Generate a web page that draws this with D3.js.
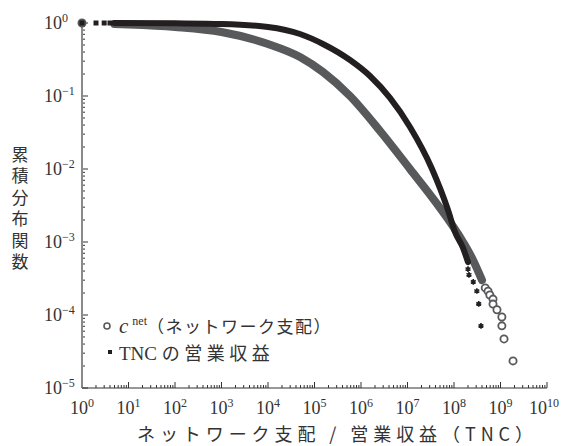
<!DOCTYPE html>
<html><head><meta charset="utf-8">
<script src="https://cdn.jsdelivr.net/npm/d3@7"></script>
<style>
html,body{margin:0;padding:0;background:#fff;}
svg{display:block;}
</style></head>
<body>
<svg id="c" width="562" height="446"></svg>
<script>
// ---- data ----
const grayBandX = [5, 10, 100, 1000, 1e4, 4.88e4, 1.52e5, 5.8e5, 2.57e6, 1.13e7, 4.31e7, 1.56e8, 2.56e8, 4.0e8];
const grayBandY = [0.969, 0.954, 0.882, 0.753, 0.516, 0.342, 0.213, 0.1, 0.0332, 0.01, 0.00332, 0.001, 5.67e-4, 3.0e-4];
const grayTailX = [1, 4.7e8, 5.4e8, 5.9e8, 6.9e8, 6.9e8, 8.4e8, 1.07e9, 1.07e9, 1.19e9, 1.86e9];
const grayTailY = [1, 2.35e-4, 2.12e-4, 1.88e-4, 1.65e-4, 1.41e-4, 1.18e-4, 9.4e-5, 7.1e-5, 4.7e-5, 2.35e-5];
const blackBandX = [5, 100, 1000, 1e4, 4.88e4, 1.52e5, 5.8e5, 1.56e6, 4.2e6, 1.13e7, 3.37e7, 7.43e7, 1.05e8, 1.56e8, 2.0e8];
const blackBandY = [1, 0.99, 0.969, 0.882, 0.707, 0.516, 0.311, 0.188, 0.094, 0.0376, 0.01, 0.00274, 0.00137, 8.3e-4, 5.3e-4];
const blackHeadX = [1, 2, 3, 4];
const blackHeadY = [1, 1, 1, 1];
const blackTailX = [2.0e8, 2.1e8, 2.6e8, 3.1e8, 3.4e8, 3.8e8];
const blackTailY = [4.26e-4, 3.55e-4, 2.84e-4, 2.13e-4, 1.42e-4, 7.1e-5];
const xDecades = [0,1,2,3,4,5,6,7,8,9,10];
const yDecades = [0,-1,-2,-3,-4,-5];
const legendNames = ["net", "（ネットワーク支配）", "TNC の営業収益"];
const xTitle = "ネットワーク支配 / 営業収益（TNC）";
const yTitle = "累積分布関数";

const GRAY = "#58595b", BLACK = "#231f20";
const svg = d3.select("#c");
const x = d3.scaleLog().domain([1, 1e10]).range([82, 547]);
const y = d3.scaleLog().domain([1e-5, 1]).range([388, 23]);
const serif = "Liberation Serif, DejaVu Serif, serif";
const cjk = "Noto Sans CJK JP, Noto Sans CJK SC, sans-serif";

// ---- axes ----
const ax = svg.append("g");
yDecades.forEach(d => {
  const v = Math.pow(10, d);
  ax.append("line").attr("x1", x(1)).attr("x2", x(1) + 6).attr("y1", y(v)).attr("y2", y(v))
    .attr("stroke", "#333").attr("stroke-width", 1);
  if (d > -5) {
    for (let k = 2; k <= 9; k++) {
      const m = k * Math.pow(10, d - 1);
      ax.append("line").attr("x1", x(1)).attr("x2", x(1) + 3).attr("y1", y(m)).attr("y2", y(m))
        .attr("stroke", "#333").attr("stroke-width", 1);
    }
  }
});
xDecades.forEach(d => {
  const v = Math.pow(10, d);
  ax.append("line").attr("x1", x(v)).attr("x2", x(v)).attr("y1", y(1e-5)).attr("y2", y(1e-5) - 6)
    .attr("stroke", "#333").attr("stroke-width", 1);
  if (d < 10) {
    for (let k = 2; k <= 9; k++) {
      const m = k * v;
      ax.append("line").attr("x1", x(m)).attr("x2", x(m)).attr("y1", y(1e-5)).attr("y2", y(1e-5) - 3)
        .attr("stroke", "#333").attr("stroke-width", 1);
    }
  }
});
ax.append("line").attr("x1", x(1)).attr("x2", x(1)).attr("y1", y(1)).attr("y2", y(1e-5))
  .attr("stroke", "#8a8a8a").attr("stroke-width", 2);
ax.append("line").attr("x1", x(1)).attr("x2", x(1e10)).attr("y1", y(1e-5)).attr("y2", y(1e-5))
  .attr("stroke", "#333").attr("stroke-width", 1.2);

// tick labels
yDecades.forEach(d => {
  const t = svg.append("text").attr("x", 44).attr("y", y(Math.pow(10, d)) + 6)
    .attr("font-family", serif).attr("font-size", 18).attr("fill", "#333");
  t.append("tspan").text("10");
  t.append("tspan").attr("font-size", 12).attr("dy", -7).text(d === 0 ? "0" : "−" + (-d));
});
xDecades.forEach(d => {
  const t = svg.append("text").attr("y", 414)
    .attr("font-family", serif).attr("font-size", 18).attr("fill", "#333");
  t.append("tspan").text("10");
  t.append("tspan").attr("font-size", 12).attr("dy", -7).text(String(d));
  const w = t.node().getComputedTextLength();
  let cx = x(Math.pow(10, d)) - w / 2;
  if (cx + w > 559) cx = 559 - w;
  t.attr("x", cx);
});

// axis titles
svg.append("text").attr("x", 137).attr("y", 441).attr("font-family", cjk).attr("font-size", 18)
  .attr("fill", "#333").attr("textLength", 396).attr("lengthAdjust", "spacing").text(xTitle);
svg.append("text").attr("x", 20).attr("y", 146)
  .attr("writing-mode", "vertical-rl").attr("letter-spacing", 4.5)
  .attr("font-family", cjk).attr("font-size", 17).attr("fill", "#333").text(yTitle);

// ---- series ----
const line = d3.line().x(d => x(d[0])).y(d => y(d[1])).curve(d3.curveMonotoneX);
svg.append("path").datum(d3.zip(grayBandX, grayBandY)).attr("d", line)
  .attr("fill", "none").attr("stroke", GRAY).attr("stroke-width", 8).attr("stroke-linecap", "round");
svg.selectAll(".gc").data(d3.zip(grayTailX, grayTailY)).join("circle")
  .attr("cx", d => x(d[0])).attr("cy", d => y(d[1])).attr("r", 3.6)
  .attr("fill", (d, i) => i === 0 ? GRAY : "#fff").attr("stroke", GRAY).attr("stroke-width", 1.8);
svg.append("path").datum(d3.zip(blackBandX, blackBandY)).attr("d", line)
  .attr("fill", "none").attr("stroke", BLACK).attr("stroke-width", 6).attr("stroke-linecap", "round");
svg.selectAll(".bh").data(d3.zip(blackHeadX, blackHeadY)).join("rect")
  .attr("x", d => x(d[0]) - 2.5).attr("y", d => y(d[1]) - 2.5).attr("width", 5).attr("height", 5)
  .attr("fill", BLACK);
const star = d3.symbol(d3.symbolAsterisk, 22);
svg.selectAll(".bt").data(d3.zip(blackTailX, blackTailY)).join("path")
  .attr("transform", d => `translate(${x(d[0])},${y(d[1])})`).attr("d", star)
  .attr("fill", "none").attr("stroke", BLACK).attr("stroke-width", 1.6);

// ---- legend ----
svg.append("circle").attr("cx", 107).attr("cy", 326).attr("r", 3).attr("fill", "#fff")
  .attr("stroke", GRAY).attr("stroke-width", 1.6);
const l1 = svg.append("text").attr("x", 119).attr("y", 333).attr("font-size", 18).attr("fill", "#333");
l1.append("tspan").attr("font-family", serif).attr("font-style", "italic").attr("font-size", 21).text("c");
l1.append("tspan").attr("font-family", serif).attr("font-size", 12).attr("dy", -8).attr("dx", 4).text(legendNames[0]);
l1.append("tspan").attr("font-family", cjk).attr("font-size", 17).attr("letter-spacing", 1.5).attr("dy", 8).text(legendNames[1]);
svg.append("rect").attr("x", 108).attr("y", 350).attr("width", 4).attr("height", 4).attr("fill", BLACK);
const l2 = svg.append("text").attr("x", 119).attr("y", 360).attr("fill", "#333");
l2.append("tspan").attr("font-family", serif).attr("font-size", 19).text("TNC ");
l2.append("tspan").attr("font-family", cjk).attr("font-size", 18).attr("letter-spacing", 4.5).text(legendNames[2].slice(4));
</script>
</body></html>
